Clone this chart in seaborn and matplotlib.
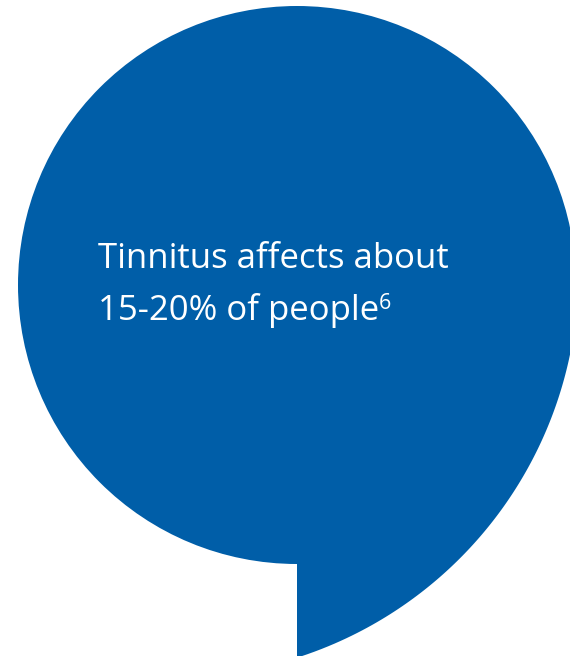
import numpy as np
import matplotlib
matplotlib.use("Agg")
import matplotlib.pyplot as plt
from matplotlib.patches import Circle, Polygon
import seaborn as sns

# Texte du graphique
lines = ["Tinnitus affects about", "15-20% of people"]
footnote = "6"

BLUE = "#005EA8"
W, H = 570, 656

sns.set_theme(style="white")
plt.rcParams["font.family"] = ["Open Sans", "DejaVu Sans"]

fig = plt.figure(figsize=(W / 100, H / 100), dpi=100)
ax = fig.add_axes([0, 0, 1, 1])
ax.set_xlim(0, W)
ax.set_ylim(H, 0)
ax.axis("off")

# Bulle principale
ax.add_patch(Circle((297, 285), 279, color=BLUE, lw=0))

# Queue de la bulle : arc d'un grand cercle, coupé à x=297
cx, cy, r = 173.5, 272, 405
y_start, y_end = 340, 657
ys = np.linspace(y_start, y_end, 120)
xs = cx + np.sqrt(np.clip(r ** 2 - (ys - cy) ** 2, 0, None))
xs = np.clip(xs, 297, None)
tail = np.column_stack([np.r_[xs, 297, 297], np.r_[ys, H + 2, y_start]])
ax.add_patch(Polygon(tail, closed=True, color=BLUE, lw=0))

# Texte
t1 = ax.text(98, 268, lines[0], color="white", fontsize=25, va="baseline", ha="left")
t2 = ax.text(98, 320, lines[1], color="white", fontsize=25, va="baseline", ha="left")

fig.canvas.draw()
bb = t2.get_window_extent()
x_end = ax.transData.inverted().transform((bb.x1, bb.y0))[0]
ax.text(x_end, 309, footnote, color="white", fontsize=15.5, va="baseline", ha="left")

fig.savefig("out.png", dpi=100, facecolor="white")
